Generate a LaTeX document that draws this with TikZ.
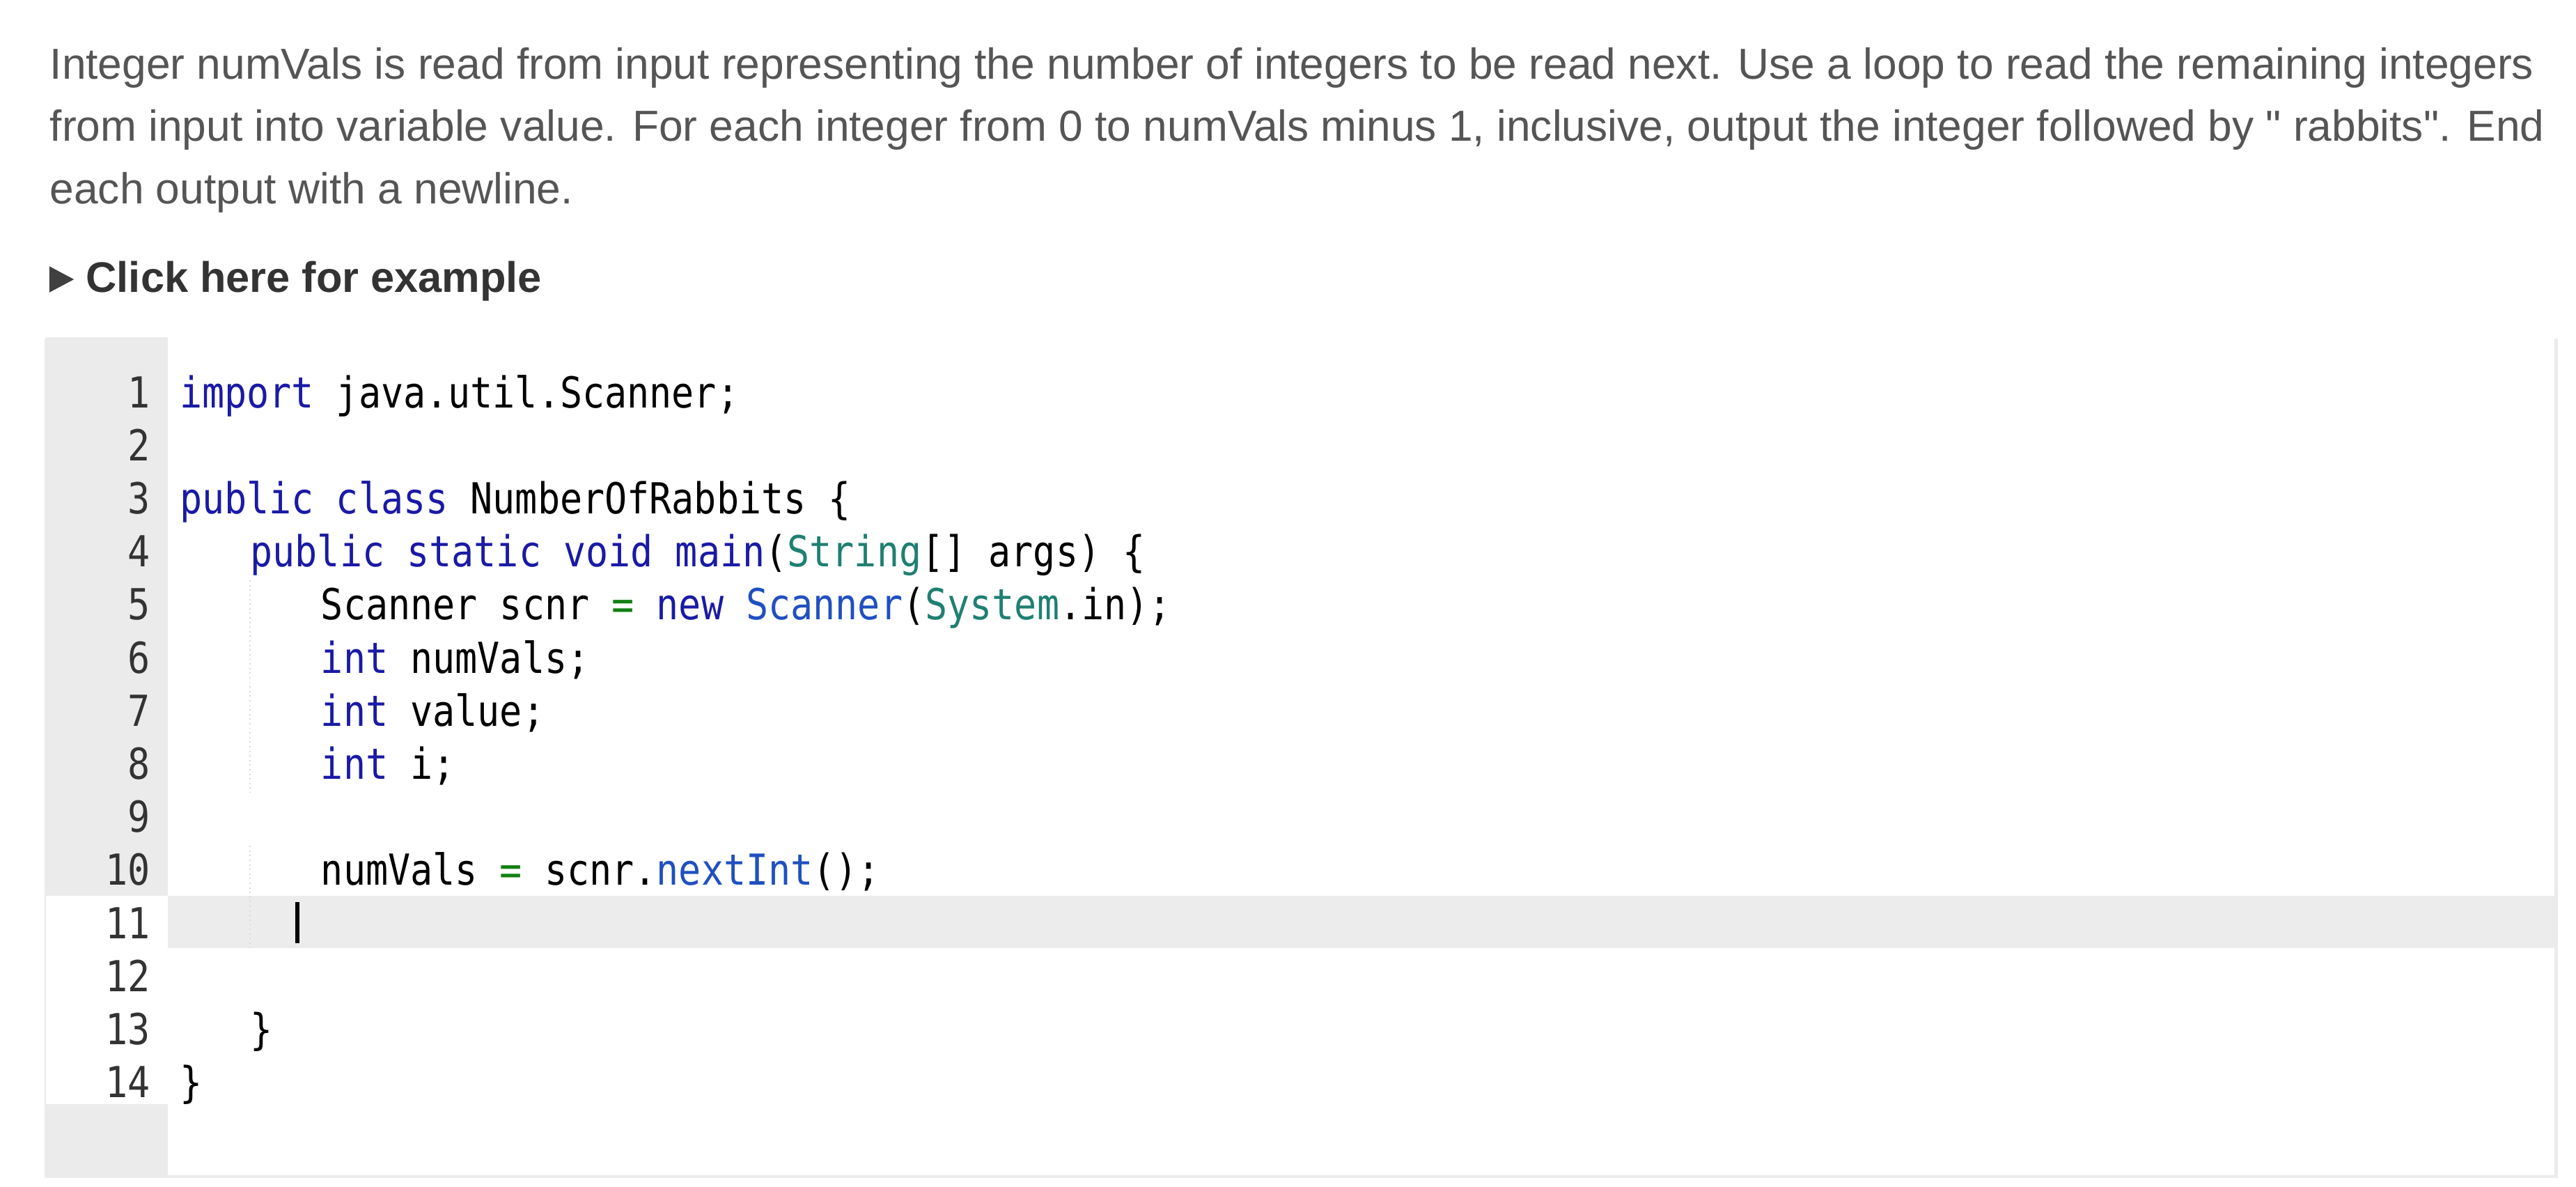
\documentclass[tikz,border=0pt]{standalone}
\usepackage{fontspec}
\setmainfont{Liberation Sans}
\newfontfamily\codefont[FakeStretch=0.87]{DejaVu Sans Mono}
\definecolor{txt}{HTML}{555555}
\definecolor{kw}{HTML}{1A1AA6}
\definecolor{fn}{HTML}{2050C0}
\definecolor{ty}{HTML}{1F7F72}
\definecolor{op}{HTML}{128012}
\definecolor{gut}{HTML}{EBEBEB}
\definecolor{hl}{HTML}{ECECEC}
\newcommand{\K}[1]{\textcolor{kw}{#1}}
\newcommand{\F}[1]{\textcolor{fn}{#1}}
\newcommand{\T}[1]{\textcolor{ty}{#1}}
\newcommand{\OP}[1]{\textcolor{op}{#1}}
\begin{document}
\begin{tikzpicture}[x=0.5pt,y=-0.5pt,
  para/.style={anchor=base west,inner sep=0,text=txt,font=\fontsize{13.2}{15}\selectfont},
  code/.style={anchor=base west,inner sep=0,font=\codefont\fontsize{13}{16}\selectfont},
  lnum/.style={anchor=base east,inner sep=0,text=black!80,font=\codefont\fontsize{13}{16}\selectfont}]
\useasboundingbox (0,0) rectangle (1568,722);
\fill[white] (0,0) rectangle (1568,722);
\node[para] (p1) at (30,48) {Integer numVals is read from input representing the number of integers to be read next. Use a loop to read the remaining integers};
\node[para] (p2) at (30,86) {from input into variable value. For each integer from 0 to numVals minus 1, inclusive, output the integer followed by \textquotedbl{} rabbits\textquotedbl. End};
\node[para] (p3) at (30,124) {each output with a newline.};
\node[para,text=black!80,font=\bfseries\fontsize{13}{15}\selectfont] (ex) at (52,178) {Click here for example};
\fill[black!75] (30,162) -- (45,170) -- (30,178) -- cycle;
% code box
\fill[black!8] (27,206) rectangle (1557,717);
\fill[white] (28,205) rectangle (1555,715);
\fill[gut] (28,205) rectangle (102,545);
\fill[gut] (28,672) rectangle (102,715);
\fill[hl] (102,545) rectangle (1555,577);
\foreach \a/\b in {5/8,10/11}
  \draw[black!15,densely dotted] (152,{248+(\a-1)*32.3-24}) -- (152,{248+(\b-1)*32.3+8});
\foreach \n in {1,...,14}
  \node[lnum] (n\n) at (92,{248+(\n-1)*32.3}) {\n};
\newcommand{\Y}[1]{248+(#1-1)*32.3}
\node[code] (c1) at (109,{\Y{1}}) {\K{import} java.util.Scanner;};
\node[code] (c3) at (109,{\Y{3}}) {\K{public} \K{class} NumberOfRabbits \{};
\node[code] (c4) at (152,{\Y{4}}) {\K{public} \K{static} \K{void} \K{main}(\T{String}[] args) \{};
\node[code] (c5) at (195,{\Y{5}}) {Scanner scnr \OP{=} \K{new} \F{Scanner}(\T{System}.in);};
\node[code] (c6) at (195,{\Y{6}}) {\K{int} numVals;};
\node[code] (c7) at (195,{\Y{7}}) {\K{int} value;};
\node[code] (c8) at (195,{\Y{8}}) {\K{int} i;};
\node[code] (c10) at (195,{\Y{10}}) {numVals \OP{=} scnr.\F{nextInt}();};
\node[code] (c13) at (152,{\Y{13}}) {\}};
\node[code] (c14) at (109,{\Y{14}}) {\}};
\draw[black,line width=1.2pt] (181,549) -- (181,574);
\end{tikzpicture}
\end{document}
